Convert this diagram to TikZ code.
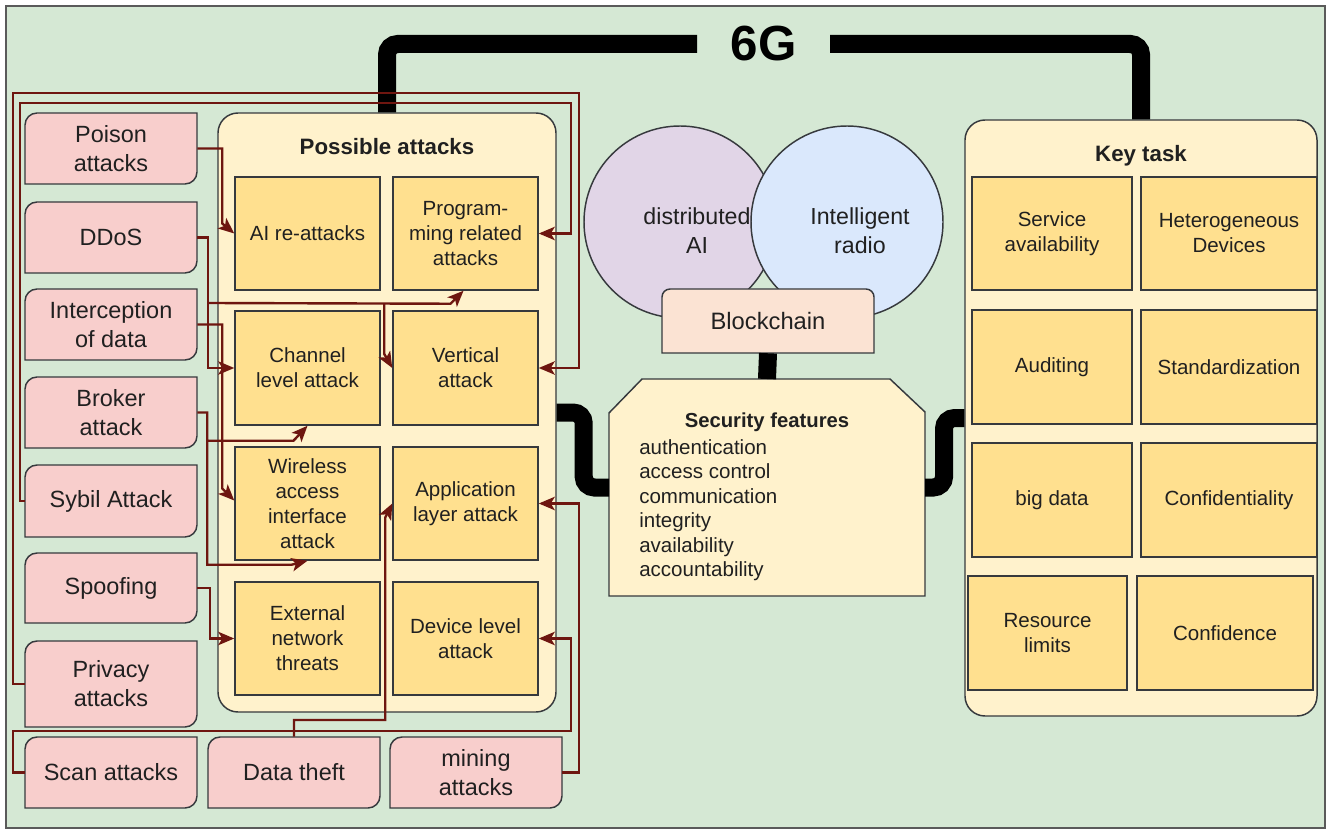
\documentclass[tikz,border=0pt]{standalone}
\usepackage{fontspec}
\setmainfont{Liberation Sans}
\usetikzlibrary{arrows.meta,calc}

\definecolor{bggreen}{HTML}{D5E8D4}
\definecolor{framegray}{HTML}{5A5A5A}
\definecolor{pinkfill}{HTML}{F8CECC}
\definecolor{panelfill}{HTML}{FFF2CC}
\definecolor{cellfill}{HTML}{FFE08F}
\definecolor{chainfill}{HTML}{FBE3D3}
\definecolor{aifill}{HTML}{E1D5E7}
\definecolor{radiofill}{HTML}{DAE8FC}
\definecolor{edgedark}{HTML}{36393D}
\definecolor{linkred}{HTML}{6E1610}
\definecolor{inkdark}{HTML}{202020}

\tikzset{
  panel/.style={draw=edgedark, fill=panelfill, line width=1.1pt, rounded corners=15pt},
  cellbox/.style={draw=edgedark, fill=cellfill, line width=1.1pt, align=center,
    text=inkdark, font=\fontsize{15.4}{18.8}\selectfont, inner sep=1pt},
  pinkshape/.style={draw=edgedark, fill=pinkfill, line width=1.1pt},
  pinktext/.style={align=center, text=inkdark, font=\fontsize{17.6}{21.8}\selectfont, inner sep=0pt},
  bigtext/.style={align=center, text=inkdark, font=\fontsize{17.4}{21.8}\selectfont, inner sep=0pt},
  paneltitle/.style={font=\bfseries\fontsize{16.7}{20}\selectfont, text=inkdark},
  link/.style={draw=linkred, line width=1.8pt, -{Stealth[length=12pt,width=10pt,inset=3pt]}},
  spine/.style={draw=black, line width=13.5pt, rounded corners=8pt},
  ghost/.style={inner sep=0pt, outer sep=0pt},
}

% attack source box: rounded top-left and bottom-right corners
\newcommand\attackbox[6]{%
  \draw[pinkshape] (#2,#5) -- (#2,#3+12) .. controls (#2,#3+5.4) and (#2+5.4,#3) .. (#2+12,#3)
    -- (#4,#3) -- (#4,#5-12) .. controls (#4,#5-5.4) and (#4-5.4,#5) .. (#4-12,#5) -- cycle;
  \node[pinktext, minimum width={(#4-#2)*0.75pt}, minimum height={(#5-#3)*0.75pt}]
    (#1) at ({(#2+#4)/2},{(#3+#5)/2}) {#6};}

% square cell inside a panel
\newcommand\gridcell[6]{%
  \node[cellbox, minimum width={(#4-#2)*0.75pt}, minimum height={(#5-#3)*0.75pt}]
    (#1) at ({(#2+#4)/2},{(#3+#5)/2}) {#6};}

\begin{document}
\begin{tikzpicture}[x=0.75pt, y=-0.75pt]
\useasboundingbox (0,0) rectangle (1331,834);
\fill[white] (0,0) rectangle (1331,834);
\draw[framegray, line width=0.8pt, fill=bggreen] (6,6) rectangle (1325,828);

% ---- possible attacks panel ----
\node[panel, minimum width={338*0.75pt}, minimum height={599*0.75pt}] (pa) at (387,412.5) {};
\node[paneltitle] (patitle) at (387,147) {Possible attacks};
\gridcell{ai}{235}{177}{380}{290}{AI re-attacks}
\gridcell{prog}{393}{177}{538}{290}{Program-\\ming related\\attacks}
\gridcell{channel}{235}{311}{380}{425}{Channel\\level attack}
\gridcell{vert}{393}{311}{538}{425}{Vertical\\attack}
\gridcell{wireless}{235}{447}{380}{560}{Wireless\\access\\interface\\attack}
\gridcell{app}{393}{447}{538}{560}{Application\\layer attack}
\gridcell{ext}{235}{582}{380}{695}{External\\network\\threats}
\gridcell{dev}{393}{582}{538}{695}{Device level\\attack}

% ---- key task panel ----
\node[panel, minimum width={352*0.75pt}, minimum height={596*0.75pt}] (kt) at (1141,418) {};
\node[paneltitle] (kttitle) at (1141,156) {Key task};
\gridcell{sa}{972}{177}{1132}{290}{Service\\availability}
\gridcell{hd}{1141}{177}{1317}{290}{Heterogeneous\\Devices}
\gridcell{aud}{972}{310}{1132}{424}{Auditing}
\gridcell{std}{1141}{310}{1317}{424}{Standardization}
\gridcell{bd}{972}{443}{1132}{557}{big data}
\gridcell{conf}{1141}{443}{1317}{557}{Confidentiality}
\gridcell{rl}{968}{576}{1127}{690}{Resource\\limits}
\gridcell{cfd}{1137}{576}{1313}{690}{Confidence}

% ---- attack sources ----
\attackbox{poison}{25}{113}{197}{184}{Poison\\attacks}
\attackbox{ddos}{25}{202}{197}{273}{DDoS}
\attackbox{intc}{25}{289}{197}{360}{Interception\\of data}
\attackbox{broker}{25}{377}{197}{448}{Broker\\attack}
\attackbox{sybil}{25}{465}{197}{537}{Sybil Attack}
\attackbox{spoof}{25}{553}{197}{623}{Spoofing}
\attackbox{privacy}{25}{641}{197}{727}{Privacy\\attacks}
\attackbox{scan}{25}{737}{197}{808}{Scan attacks}
\attackbox{theft}{208}{737}{380}{808}{Data theft}
\attackbox{mining}{390}{737}{562}{808}{mining\\attacks}

% ---- centre: AI and radio, blockchain, security features ----
\node[circle, draw=edgedark, fill=aifill, line width=1.1pt, minimum size={192*0.75pt}] (dai) at (680,222) {};
\node[circle, draw=edgedark, fill=radiofill, line width=1.1pt, minimum size={192*0.75pt}] (radio) at (847,222) {};
\node[bigtext] (daitext) at (697,231) {distributed\\AI};
\node[bigtext] (radiotext) at (860,231) {Intelligent\\radio};

\draw[draw=edgedark, fill=chainfill, line width=1.1pt] (662,353) -- (662,297) .. controls (662,292.6) and (665.6,289) .. (670,289)
  -- (866,289) .. controls (870.4,289) and (874,292.6) .. (874,297) -- (874,353) -- cycle;
\node[bigtext, font=\fontsize{17.8}{21}\selectfont, minimum width={212*0.75pt}, minimum height={64*0.75pt}] (chain) at (768,321) {Blockchain};

\draw[draw=edgedark, fill=panelfill, line width=1.1pt]
  (609,596) -- (609,413) -- (642,379) -- (890,379) -- (925,412) -- (925,596) -- cycle;
\node[ghost, minimum width={316*0.75pt}, minimum height={217*0.75pt}] (sec) at (767,487.5) {};
\node[font=\bfseries\fontsize{15.2}{18}\selectfont, text=inkdark] (sectitle) at (767,422) {Security features};
\node[anchor=north west, inner sep=0pt, align=left, text=inkdark, font=\fontsize{15.4}{18.4}\selectfont] (seclist) at (639,439)
  {authentication\\access control\\communication\\integrity\\availability\\accountability};

% ---- 6G backbone ----
\node[ghost, font=\bfseries\fontsize{37}{40}\selectfont, text=black, minimum width={133*0.75pt}] (sixg) at (763.5,44) {6G};
\draw[spine] (pa.north) |- (sixg.west);
\draw[spine] (sixg.east) -| (kt.north);
\draw[spine] (pa.east) -- ++(27,0) |- (sec.west);
\draw[spine] (sec.east) -- ++(19,0) |- (kt.west);
\draw[spine] (chain.south) -- (sec.north);

% ---- attack links ----
\draw[link] (poison.east) -| ($(ai.west)+(-12,-10)$) -- (ai.west);
\draw[link] (ddos.east) -- ++(11,0) |- (channel.west);
\coordinate (ddbranch) at ($(ddos.east)+(11,65.5)$);
\draw[link] (ddbranch) -- ($(prog.south)+(-15,13)$) -- ($(prog.south)+(-2,0)$);
\coordinate (vbranch) at ($(vert.west)+(-8,-65)$);
\draw[link] (vbranch) -- ($(vert.west)+(-8,-14)$) -- (vert.west);
\draw[link] (intc.east) -| ($(wireless.west)+(-12,-15)$) -- ($(wireless.west)+(0,-3)$);
\draw[link] (broker.east) -- ++(10,0) |- ($(channel.south)+(-14,15)$) -- (channel.south);
\coordinate (bbranch) at ($(broker.east)+(10,27.5)$);
\draw[link] (bbranch) |- ($(wireless.south)+(-16,4)$) -- (wireless.south);
\draw[link] (spoof.east) -- ++(13,0) |- (ext.west);
\draw[link] (sybil.west) -- ++(-5,0) |- (571,103) |- (prog.east);
\draw[link] (privacy.west) -- ++(-12,0) |- (579,93) |- (vert.east);
\draw[link] (scan.west) -- ++(-12,0) |- (571,731) |- (dev.east);
\draw[link] (theft.north) |- ($(app.west)+(-7,216.5)$) -- ($(app.west)+(-7,14)$) -- (app.west);
\draw[link] (mining.east) -- ++(17,0) |- (app.east);
\end{tikzpicture}
\end{document}
